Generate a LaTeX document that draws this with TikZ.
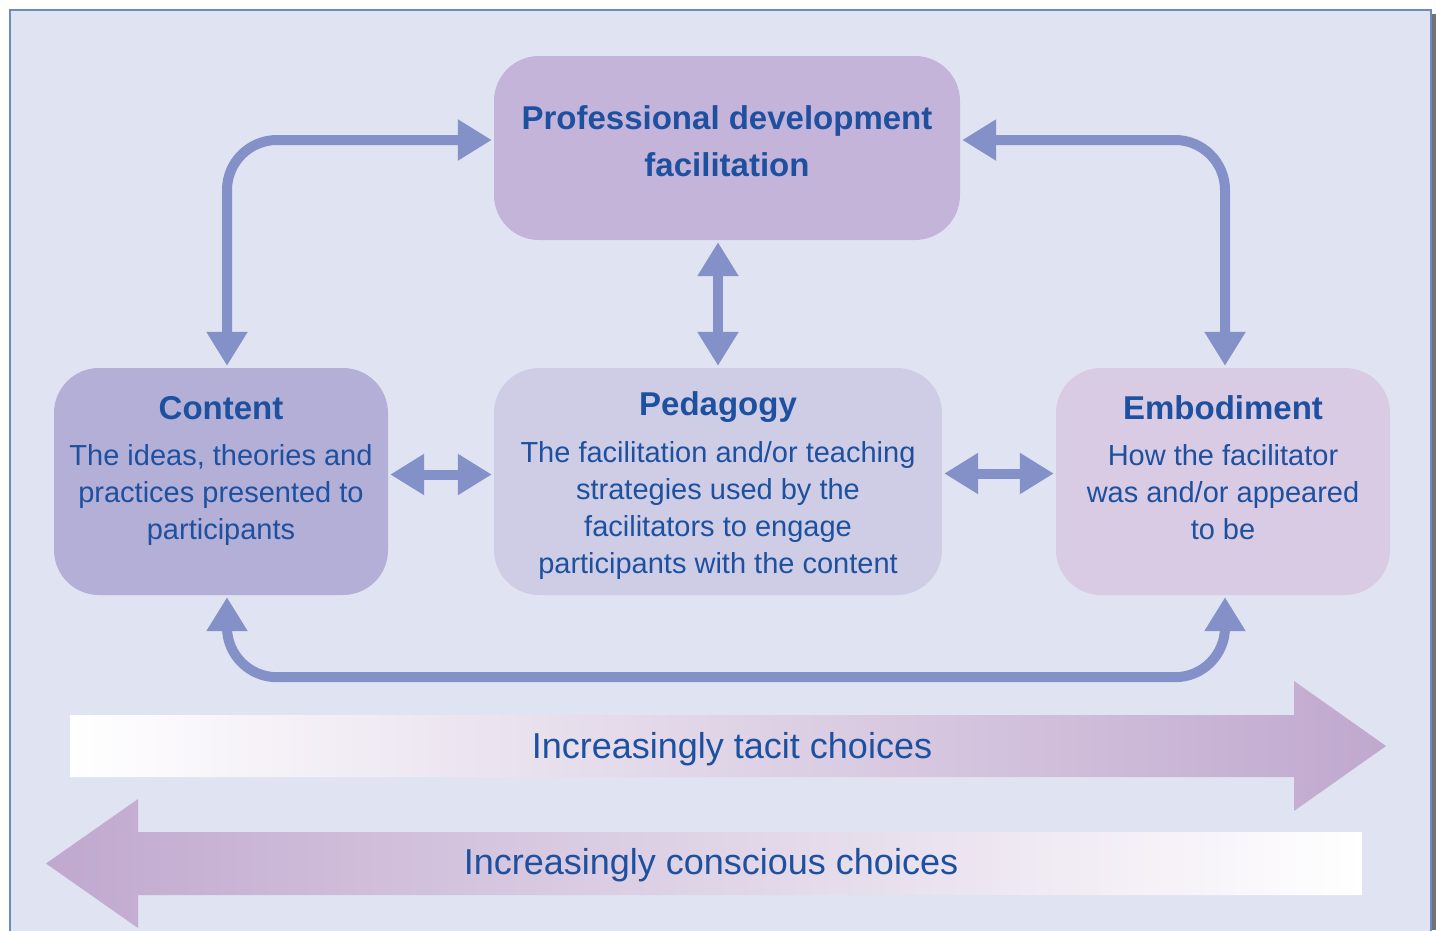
\documentclass[tikz,border=0pt]{standalone}
\usepackage{fontspec}
\setmainfont{Liberation Sans}
\usetikzlibrary{arrows.meta}
\usetikzlibrary{positioning}

\definecolor{panelbg}{HTML}{E0E3F2}
\definecolor{framecol}{HTML}{6A8CC6}
\definecolor{linkblue}{HTML}{8490C8}
\definecolor{txtblue}{HTML}{1E50A0}
\definecolor{pdfcol}{HTML}{C5B4D9}
\definecolor{contentcol}{HTML}{B3AFD6}
\definecolor{pedcol}{HTML}{CFCDE6}
\definecolor{embcol}{HTML}{D9CBE3}
\definecolor{bigarrow}{HTML}{C0A8CE}

\begin{document}
\begin{tikzpicture}[x=1pt, y=-1pt,
	>={Triangle[length=34pt,width=39pt]},
	box/.style={rectangle, rounded corners=45pt, inner sep=0pt, minimum width=334pt, minimum height=227pt},
	title/.style={text=txtblue, font=\fontsize{33}{47}\selectfont\bfseries, align=center},
	body/.style={text=txtblue, font=\fontsize{29}{37}\selectfont, align=center},
	band/.style={text=txtblue, font=\fontsize{36}{40}\selectfont, anchor=base},
	link/.style={<->, draw=linkblue, line width=10pt, rounded corners=50pt, shorten <=2pt, shorten >=2pt}]
	\useasboundingbox (0,0) rectangle (1436,930);
	% panel
	\fill[black!55] (1431,14) rectangle (1436,930);
	\draw[framecol, fill=panelbg, line width=1.5pt] (10,10) rectangle (1431,945);

	% boxes
	\node[box, fill=pdfcol, minimum width=466pt, minimum height=184pt] (pdf) at (727,148) {};
	\node[box, fill=contentcol] (content) at (221,481.5) {};
	\node[box, fill=pedcol, minimum width=448pt] (ped) at (718,481.5) {};
	\node[box, fill=embcol] (emb) at (1223,481.5) {};

	\node[title] (pdfT) at (727,141.5) {Professional development\\facilitation};
	\node[title, anchor=base] (contentT) at (221,419) {Content};
	\node[body] (contentB) at (221,494.5) {The ideas, theories and\\practices presented to\\participants};
	\node[title, anchor=base] (pedT) at (718,415) {Pedagogy};
	\node[body] (pedB) at (718,510) {The facilitation and/or teaching\\strategies used by the\\facilitators to engage\\participants with the content};
	\node[title, anchor=base] (embT) at (1223,419) {Embodiment};
	\node[body] (embB) at (1223,492.5) {How the facilitator\\was and/or appeared\\to be};

	% connectors
	\draw[link] ([xshift=6pt]content.north) |- ([yshift=8pt]pdf.west);
	\draw[link] ([yshift=8pt]pdf.east) -| ([xshift=2pt]emb.north);
	\draw[link] (ped.north |- pdf.south) -- (ped.north);
	\draw[link] ([yshift=7pt]content.east) -- ([yshift=7pt]ped.west);
	\draw[link] ([yshift=8pt]ped.east) -- ([yshift=8pt]emb.west);
	\draw[link] ([xshift=6pt]content.south) -- ++(0,82) -| ([xshift=2pt]emb.south);

	% tacit / conscious
	\shade[left color=white, right color=bigarrow] (70,715) -- (1294,715) -- (1294,681) -- (1386,746) -- (1294,811) -- (1294,777) -- (70,777) -- cycle;
	\shade[left color=bigarrow, right color=white] (1362,832) -- (138,832) -- (138,799) -- (46,863.5) -- (138,928) -- (138,895) -- (1362,895) -- cycle;
	\node[band] (tacit) at (732,758) {Increasingly tacit choices};
	\node[band] (conscious) at (711,874) {Increasingly conscious choices};
\end{tikzpicture}
\end{document}
